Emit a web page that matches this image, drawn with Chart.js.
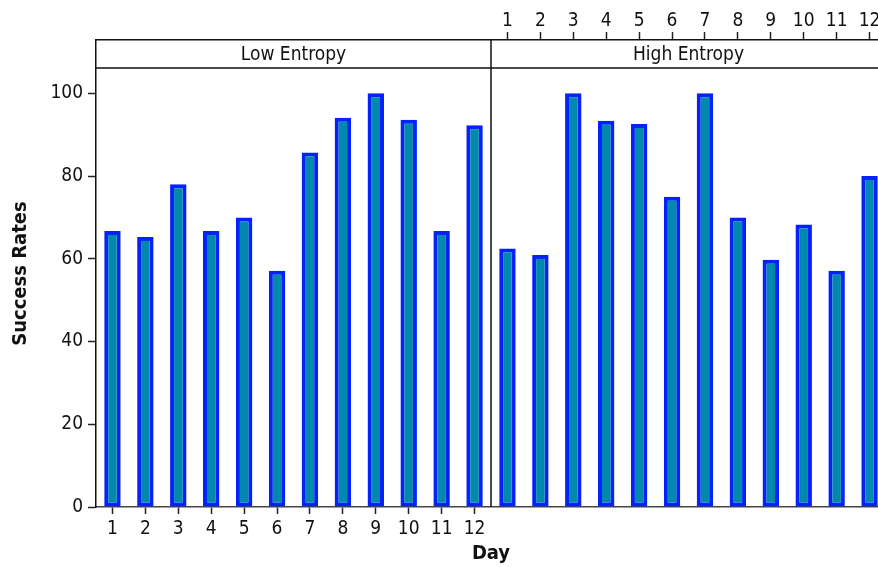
<!DOCTYPE html>
<html>
<head>
<meta charset="utf-8">
<script src="https://cdn.jsdelivr.net/npm/chart.js@4"></script>
<style>
  html, body { margin: 0; padding: 0; background: #fff; overflow: hidden; }
  #wrap { position: relative; width: 886px; height: 567px; }
</style>
</head>
<body>
<div id="wrap"><canvas id="chart"></canvas></div>
<script>
const days = ['1', '2', '3', '4', '5', '6', '7', '8', '9', '10', '11', '12'];
const panels = ['Low Entropy', 'High Entropy'];
const lowEntropy = [66.7, 65.3, 78.0, 66.7, 70.0, 57.1, 85.7, 94.1, 100, 93.6, 66.7, 92.3];
const highEntropy = [62.5, 60.9, 100, 93.4, 92.6, 75.0, 100, 70.0, 59.8, 68.3, 57.1, 80.0];
const yTicks = [0, 20, 40, 60, 80, 100];

const tickFont = { family: '"DejaVu Sans Condensed", "DejaVu Sans", sans-serif', size: 19 };
const titleFont = { family: '"DejaVu Sans Condensed", "DejaVu Sans", sans-serif', size: 20, weight: 'bold' };
const ink = '#111';
const n = days.length;

// strip boxes + divider between the two panels
const stripPlugin = {
    id: 'strips',
    afterDraw(chart) {
        const { ctx, chartArea: a } = chart;
        const xs = chart.scales.x;
        const mid = (xs.getPixelForValue(n - 1) + xs.getPixelForValue(n)) / 2;
        const stripBottom = a.top + 28;
        ctx.save();
        ctx.strokeStyle = '#111';
        ctx.lineWidth = 1.5;
        ctx.beginPath();
        ctx.moveTo(a.left, stripBottom);
        ctx.lineTo(a.right, stripBottom);
        ctx.moveTo(mid, a.top);
        ctx.lineTo(mid, a.bottom);
        ctx.stroke();
        ctx.fillStyle = ink;
        ctx.font = `${tickFont.size}px ${tickFont.family}`;
        ctx.textAlign = 'center';
        ctx.textBaseline = 'middle';
        ctx.fillText(panels[0], (a.left + mid) / 2, (a.top + stripBottom) / 2 + 1);
        ctx.fillText(panels[1], (mid + a.right) / 2, (a.top + stripBottom) / 2 + 1);
        ctx.restore();
    }
};

new Chart(document.getElementById('chart'), {
    type: 'bar',
    data: {
        labels: days.concat(days),
        datasets: [{
            data: lowEntropy.concat(highEntropy),
            backgroundColor: '#0088ad',
            borderColor: '#0622fa',
            borderWidth: 4,
            borderSkipped: false,
            categoryPercentage: 1,
            barPercentage: 0.5
        }]
    },
    options: {
        responsive: true,
        maintainAspectRatio: false,
        animation: false,
        layout: { padding: 0 },
        plugins: { legend: { display: false }, tooltip: { enabled: false } },
        scales: {
            x: {
                type: 'category',
                position: 'bottom',
                offset: true,
                grid: { offset: false, drawOnChartArea: false, tickLength: 7, tickWidth: 1.5,
                    tickColor: c => c.index < n ? '#222' : 'rgba(0,0,0,0)' },
                border: { color: '#444', width: 1.5 },
                ticks: { font: tickFont, color: ink, padding: 4, maxRotation: 0, autoSkip: false,
                    callback: (v, i) => i < n ? days[i] : '' },
                title: { display: true, text: 'Day', font: titleFont, color: ink, padding: { top: 0, bottom: 1 } },
                afterFit: s => { s.height = 60; }
            },
            xTop: {
                type: 'category',
                position: 'top',
                offset: true,
                grid: { offset: false, drawOnChartArea: false, tickLength: 8, tickWidth: 1.5,
                    tickColor: c => c.index >= n ? '#222' : 'rgba(0,0,0,0)' },
                border: { color: '#111', width: 1.5 },
                ticks: { font: tickFont, color: ink, padding: 0, maxRotation: 0, autoSkip: false,
                    callback: (v, i) => i >= n ? days[i - n] : '' },
                afterFit: s => { s.height = 40; }
            },
            y: {
                min: 0,
                max: 112.9,
                afterBuildTicks: s => { s.ticks = yTicks.map(v => ({ value: v })); },
                grid: { drawOnChartArea: false, tickLength: 8, tickWidth: 1.5, tickColor: '#222' },
                border: { color: '#111', width: 1.5 },
                ticks: { font: tickFont, color: ink, padding: 5 },
                title: { display: true, text: 'Success Rates', font: titleFont, color: ink, padding: { top: 9, bottom: 0 } },
                afterFit: s => { s.width = 96; }
            }
        }
    },
    plugins: [stripPlugin]
});
</script>
</body>
</html>
